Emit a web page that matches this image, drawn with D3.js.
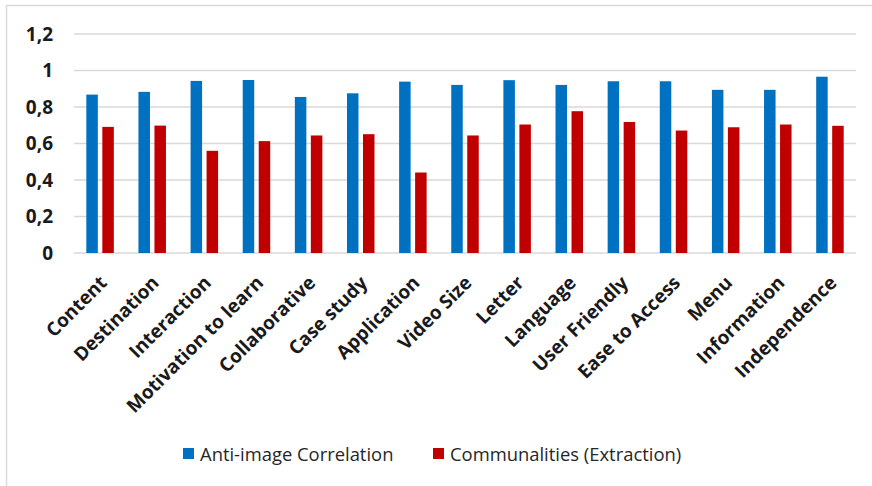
<!DOCTYPE html>
<html>
<head>
<meta charset="utf-8">
<script src="https://cdn.jsdelivr.net/npm/d3@7"></script>
<style>
  html, body { margin: 0; padding: 0; background: #ffffff; }
  svg { display: block; }
</style>
</head>
<body>
<svg id="chart" width="872" height="486"></svg>
<script>
// Items assessed
const categories = [
  "Content", "Destination", "Interaction", "Motivation to learn", "Collaborative",
  "Case study", "Application", "Video Size", "Letter", "Language",
  "User Friendly", "Ease to Access", "Menu", "Information", "Independence"
];

// Series values
const antiImage = [0.868, 0.883, 0.943, 0.948, 0.855, 0.875, 0.939, 0.921, 0.947, 0.921, 0.941, 0.941, 0.894, 0.894, 0.966];
const communalities = [0.691, 0.698, 0.560, 0.613, 0.644, 0.651, 0.441, 0.644, 0.704, 0.777, 0.718, 0.671, 0.689, 0.704, 0.697];

const seriesNames = ["Anti-image Correlation", "Communalities (Extraction)"];
const seriesColors = ["#0070C0", "#C00000"];

// Y axis ticks
const yTicks = [0, 0.2, 0.4, 0.6, 0.8, 1, 1.2];
const yTickLabels = ["0", "0,2", "0,4", "0,6", "0,8", "1", "1,2"];

const svg = d3.select("#chart");
const W = 872, H = 486;
const margin = { left: 74, right: 16, top: 34, bottom: 233 };

// Outer frame (top and left edges visible)
svg.append("rect")
  .attr("x", 6.5).attr("y", 5.5)
  .attr("width", W + 20).attr("height", H + 20)
  .attr("fill", "none")
  .attr("stroke", "#d9d9d9")
  .attr("stroke-width", 1.5);

const x = d3.scaleBand()
  .domain(categories)
  .range([margin.left, W - margin.right])
  .paddingInner(0).paddingOuter(0);

const y = d3.scaleLinear()
  .domain([0, 1.2])
  .range([H - margin.bottom, margin.top]);

const barW = 11.5, barGap = 4.5;

// Gridlines
svg.append("g")
  .selectAll("line")
  .data(yTicks)
  .join("line")
  .attr("x1", margin.left)
  .attr("x2", W - margin.right)
  .attr("y1", d => y(d))
  .attr("y2", d => y(d))
  .attr("stroke", "#d9d9d9")
  .attr("stroke-width", 1.5);

// Y axis labels
const yAxis = d3.axisLeft(y)
  .tickValues(yTicks)
  .tickFormat((d, i) => yTickLabels[i])
  .tickSize(0)
  .tickPadding(0);

const yg = svg.append("g")
  .attr("transform", `translate(${margin.left - 21},0)`)
  .call(yAxis);
yg.select(".domain").remove();
yg.selectAll("text")
  .attr("font-family", "'Open Sans', sans-serif")
  .attr("font-weight", "bold")
  .attr("font-size", 19)
  .attr("fill", "#1a1a1a");

// Bars
const series = [antiImage, communalities];
series.forEach((vals, si) => {
  svg.append("g")
    .selectAll("rect")
    .data(categories)
    .join("rect")
    .attr("x", d => x(d) + x.bandwidth() / 2 - barW - barGap / 2 + si * (barW + barGap))
    .attr("y", (d, i) => y(vals[i]))
    .attr("width", barW)
    .attr("height", (d, i) => y(0) - y(vals[i]))
    .attr("fill", seriesColors[si]);
});

// X axis labels, rotated
const xAxis = d3.axisBottom(x).tickSize(0).tickPadding(0);
const xg = svg.append("g")
  .attr("transform", `translate(0,${y(0)})`)
  .call(xAxis);
xg.select(".domain").remove();
xg.selectAll("text")
  .attr("font-family", "'Open Sans', sans-serif")
  .attr("font-weight", "bold")
  .attr("font-size", 19)
  .attr("fill", "#1a1a1a")
  .attr("text-anchor", "end")
  .attr("dy", 0)
  .attr("y", 0)
  .attr("transform", "translate(8,31) rotate(-45)");

// Legend
const legend = svg.append("g");
const legendItems = [
  { x: 183, name: seriesNames[0], color: seriesColors[0] },
  { x: 433, name: seriesNames[1], color: seriesColors[1] }
];
legendItems.forEach(item => {
  legend.append("rect")
    .attr("x", item.x).attr("y", 448)
    .attr("width", 11).attr("height", 11)
    .attr("fill", item.color);
  legend.append("text")
    .attr("x", item.x + 17).attr("y", 461)
    .attr("font-family", "'Open Sans', sans-serif")
    .attr("font-size", 18.4)
    .attr("fill", "#262626")
    .text(item.name);
});
</script>
</body>
</html>
